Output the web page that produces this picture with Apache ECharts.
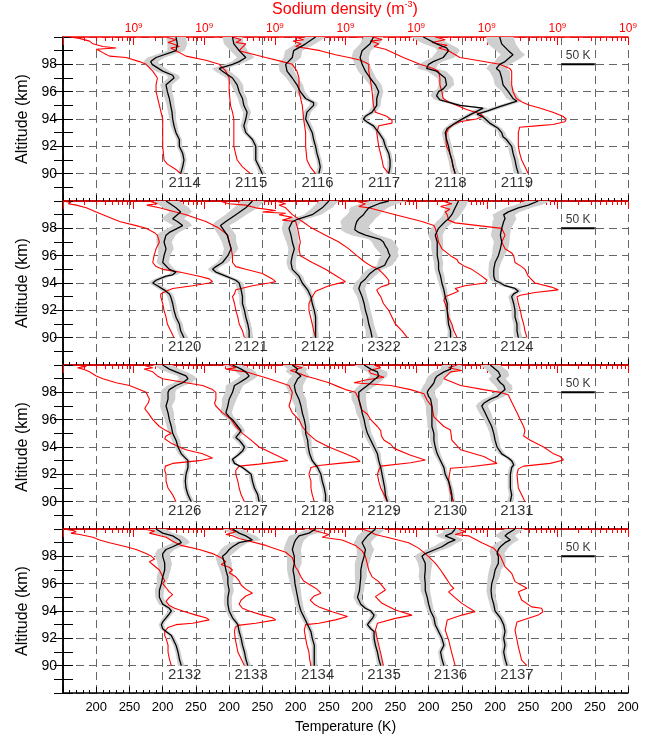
<!DOCTYPE html>
<html><head><meta charset="utf-8">
<script src="https://cdn.jsdelivr.net/npm/echarts@6/dist/echarts.min.js"></script>
<style>html,body{margin:0;padding:0;background:#fff}#c{width:653px;height:736px}</style>
</head><body><div id="c"></div>
<script>
// ---------- panels (profile ids, left to right) ----------
const panel1 = ['2114','2115','2116','2117','2118','2119'];
const panel2 = ['2120','2121','2122','2322','2123','2124'];
const panel3 = ['2126','2127','2128','2129','2130','2131'];
const panel4 = ['2132','2133','2134','2135','2136','2137'];

// ---------- axis labels ----------
const bottomTickLabels = ['', '200','250','200','250','200','250','200','250','200','250','200','250','200','250','200','250','200'];
const topTickLabel = ['10', '9'];
const altitudeLabels = [90, 92, 94, 96, 98];

// ---------- temperature uncertainty (K, half width) by km 90..100 ----------
const bandAltKm = [90,91,92,93,94,95,96,97,98,99,100];
const bandHalfWidthK = [5,4,4,4,5,6,7,9,11,13,15];
const bandScale = {'2118':1.3,'2119':1.4,'2120':1.3,'2121':1.2,'2322':1.9,'2124':1.3};

// ---------- temperature profiles [altitude km, T K] ----------
const temp2114 = [[100,220],[99.5,222],[99,220],[98.5,190],[98.2,182],[98,184],[97.5,200],[97.2,215],[97,217],[96.5,205],[96,207],[95.5,210],[95,212],[94.5,214],[94,215],[93.5,217],[93,220],[92.5,225],[92,225],[91.5,230],[91,232],[90.5,230],[90,227]];
const temp2115 = [[100,205],[99.5,207],[99,215],[98.5,225],[98.2,215],[98,205],[97.7,185],[97.5,190],[97,205],[96.5,212],[96,215],[95.5,220],[95,222],[94.5,227],[94,225],[93.5,222],[93,225],[92.5,235],[92,240],[91.5,240],[91,240],[90.5,245],[90,250]];
const temp2116 = [[100,230],[99.5,215],[99,197],[98.5,195],[98,185],[97.5,187],[97,195],[96.5,202],[96,207],[95.5,215],[95.2,227],[95,227],[94.5,217],[94,215],[93.5,220],[93,225],[92.5,227],[92,230],[91.5,232],[91,235],[90.5,237],[90,235]];
const temp2117 = [[100,217],[99.5,212],[99,200],[98.5,197],[98,200],[97.5,205],[97,212],[96.5,220],[96,225],[95.5,222],[95,222],[94.5,215],[94.2,205],[94,202],[93.8,207],[93.5,217],[93,225],[92.5,232],[92,235],[91.5,240],[91,242],[90.5,242],[90,240]];
const temp2118 = [[100,192],[99.5,212],[99.2,227],[99,230],[98.5,222],[98.2,207],[98,200],[97.7,197],[97.5,212],[97,225],[96.5,227],[96.2,222],[96,215],[95.7,212],[95.4,217],[95.0,247],[94.8,282],[94.6,274],[94.3,262],[93.9,247],[93.6,237],[93.3,228],[93,225],[92.5,227],[92,230],[91.5,232],[91,235],[90.5,237],[90,240]];
const temp2119 = [[100,207],[99.5,210],[99,220],[98.7,227],[98.5,222],[98.2,215],[98,207],[97.7,202],[97.5,207],[97,210],[96.5,212],[96,220],[95.5,227],[95.3,233],[95.1,220],[94.9,207],[94.6,189],[94.35,173],[94.15,182],[93.7,192],[93.3,205],[93,210],[92.7,212],[92.5,217],[92,225],[91.5,227],[91,230],[90.5,232],[90,235]];

const temp2120 = [[100,205],[99.5,220],[99.2,227],[99,222],[98.7,215],[98.5,222],[98.2,230],[98,222],[97.7,210],[97.5,205],[97,202],[96.5,205],[96,202],[95.5,200],[95,210],[94.8,220],[94.6,215],[94.5,205],[94.2,190],[94,185],[93.8,192],[93.5,202],[93.2,210],[93,212],[92.5,215],[92,217],[91.5,220],[91,225],[90.5,227],[90,232]];
const temp2121 = [[100,235],[99.5,225],[99,210],[98.5,195],[98.2,187],[98,190],[97.5,197],[97,200],[96.5,203],[96,198],[95.5,190],[95.2,180],[95,175],[94.8,180],[94.5,195],[94.2,210],[94,215],[93.5,218],[93,220],[92.5,220],[92,223],[91.5,225],[91,228],[90.5,230],[90,230]];
const temp2122 = [[100,250],[99.5,240],[99,225],[98.7,205],[98.5,195],[98,190],[97.5,193],[97,195],[96.5,198],[96,195],[95.5,193],[95,195],[94.5,205],[94,210],[93.5,218],[93,223],[92.5,225],[92,228],[91.5,230],[91,230],[90.5,230],[90,230]];
const temp2322 = [[100,240],[99.8,225],[99.5,210],[99.2,205],[99,202],[98.7,195],[98.5,192],[98.2,190],[97.9,189],[97.7,195],[97.5,205],[97.2,227],[97,232],[96.7,235],[96.5,238],[96.2,240],[96,242],[95.7,238],[95.3,234],[95,220],[94.7,212],[94.3,205],[94,198],[93.6,195],[93,200],[92.5,203],[92,205],[91.5,208],[91,210],[90.5,213],[90,215]];
const temp2123 = [[100,245],[99.5,240],[99,235],[98.7,230],[98.5,225],[98,215],[97.5,210],[97,213],[96.5,213],[96,213],[95.5,215],[95,215],[94.5,218],[94,220],[93.5,223],[93,225],[92.5,228],[92,228],[91.5,229],[91,230],[90.5,233],[90,233]];
const temp2124 = [[100,265],[99.7,250],[99.5,235],[99.2,220],[99,213],[98.7,215],[98.5,213],[98,210],[97.5,208],[97,210],[96.5,208],[96,205],[95.5,200],[95,198],[94.5,198],[94.2,200],[94,208],[93.8,215],[93.6,230],[93.4,235],[93.2,228],[93,225],[92.5,228],[92,230],[91.5,230],[91,233],[90.5,233],[90,235]];

const temp2126 = [[100,200],[99.7,210],[99.5,220],[99.2,235],[99,238],[98.7,230],[98.5,220],[98.2,210],[98,208],[97.5,208],[97,205],[96.5,208],[96,210],[95.5,213],[95,215],[94.5,220],[94,223],[93.5,228],[93,238],[92.5,238],[92,235],[91.5,234],[91,235],[90.5,238],[90,243]];
const temp2127 = [[100,205],[99.7,218],[99.5,225],[99.2,230],[99,225],[98.7,215],[98.5,208],[98,205],[97.5,200],[97,198],[96.5,195],[96.2,200],[96,205],[95.5,213],[95.2,218],[95,215],[94.7,210],[94.5,215],[94.2,220],[94,223],[93.7,220],[93.4,213],[93.1,205],[92.8,208],[92.5,220],[92.2,228],[92,233],[91.5,235],[91,238],[90.5,243],[90,245]];
const temp2128 = [[100,195],[99.7,203],[99.5,200],[99.2,208],[99,203],[98.5,198],[98,200],[97.5,205],[97,208],[96.5,210],[96,213],[95.5,215],[95,215],[94.5,218],[94,219],[93.5,221],[93,225],[92.5,233],[92,238],[91.5,240],[91,243],[90.5,245],[90,245]];
const temp2129 = [[100,203],[99.7,213],[99.5,223],[99.2,225],[99,220],[98.7,213],[98.5,208],[98.2,200],[98,195],[97.5,195],[97,198],[96.5,200],[96,203],[95.5,205],[95,208],[94.5,213],[94,218],[93.5,223],[93,225],[92.5,228],[92,230],[91.5,232],[91,234],[90.5,235],[90,238]];
const temp2130 = [[100,235],[99.7,233],[99.5,223],[99.2,213],[99,210],[98.7,208],[98.5,205],[98.2,200],[98,198],[97.7,200],[97.5,203],[97,205],[96.5,205],[96,205],[95.5,205],[95,208],[94.5,208],[94,210],[93.5,213],[93,218],[92.5,223],[92,225],[91.5,230],[91,233],[90.5,235],[90,235]];
const temp2131 = [[100,193],[99.7,200],[99.5,205],[99.2,208],[99,203],[98.7,208],[98.5,213],[98.2,215],[98,210],[97.7,203],[97.5,193],[97.2,183],[97,180],[96.5,185],[96,190],[95.5,195],[95,198],[94.5,200],[94,203],[93.5,210],[93.2,220],[93,225],[92.7,228],[92.5,225],[92,223],[91.5,223],[91,223],[90.5,225],[90,223]];

const temp2132 = [[100,190],[99.7,200],[99.5,215],[99.2,225],[99,228],[98.7,215],[98.5,205],[98.2,200],[98,200],[97.5,203],[97,203],[96.5,200],[96,198],[95.5,195],[95,195],[94.5,200],[94.2,210],[94,213],[93.8,210],[93.5,205],[93.2,200],[93,198],[92.7,200],[92.5,205],[92.2,213],[92,215],[91.5,220],[91,223],[90.5,225],[90,228]];
const temp2133 = [[100,205],[99.7,215],[99.5,225],[99.2,235],[99,215],[98.7,205],[98.5,200],[98.2,195],[98,190],[97.5,193],[97,195],[96.5,198],[96,198],[95.5,200],[95,198],[94.5,198],[94,200],[93.5,205],[93.2,210],[93,213],[92.5,215],[92,218],[91.5,220],[91,223],[90.5,225],[90,228]];
const temp2134 = [[100,230],[99.7,220],[99.5,205],[99.2,200],[99,198],[98.5,195],[98,198],[97.5,198],[97,196],[96.5,198],[96,199],[95.5,201],[95,203],[94.5,205],[94,208],[93.5,213],[93,218],[92.5,223],[92,225],[91.5,228],[91,228],[90.5,228],[90,228]];
const temp2135 = [[100,220],[99.7,213],[99.5,208],[99.2,203],[99,200],[98.5,205],[98,203],[97.5,200],[97,198],[96.5,198],[96,197],[95.5,196],[95,193],[94.5,198],[94.2,205],[94,213],[93.7,218],[93.5,216],[93.2,211],[93,208],[92.7,213],[92.5,218],[92,218],[91.5,220],[91,223],[90.5,225],[90,228]];
const temp2136 = [[100,240],[99.7,235],[99.5,225],[99.2,240],[99,230],[98.7,220],[98.5,210],[98.2,195],[98,190],[97.5,195],[97,195],[96.5,194],[96,195],[95.5,195],[95,198],[94.5,200],[94,203],[93.5,208],[93,210],[92.5,215],[92,220],[91.5,223],[91,218],[90.5,220],[90,223]];
const temp2137 = [[100,230],[99.7,220],[99.5,215],[99.2,223],[99,215],[98.7,208],[98.5,205],[98.2,203],[98,205],[97.5,205],[97,200],[96.5,198],[96,195],[95.5,194],[95,195],[94.5,198],[94,200],[93.5,208],[93,213],[92.5,215],[92,213],[91.5,215],[91,213],[90.5,215],[90,218]];

// ---------- sodium density profiles [altitude km, density drawn on the temperature scale] ----------
const sodium2114 = [[100,60],[99.9,75],[99.7,90],[99.5,95],[99.3,110],[99.2,130],[99.1,100],[99,105],[98.8,112],[98.6,120],[98.5,145],[98.2,165],[98,175],[97.5,185],[97,192],[96.5,190],[96,190],[95,195],[94,200],[93,200],[92,200],[91,202],[90.7,207],[90.3,220],[90,227]];
const sodium2115 = [[100,105],[99.8,120],[99.6,108],[99.5,115],[99.3,125],[99.2,112],[99,120],[98.6,135],[98.3,165],[98,185],[97.5,195],[97,200],[96,200],[95,202],[94.5,205],[94,207],[93,207],[92,207],[91,212],[90.5,220],[90,232]];
const sodium2116 = [[100,105],[99.8,118],[99.6,110],[99.5,125],[99,115],[98.5,155],[98.2,180],[98,195],[97.5,202],[97,205],[96,205],[95,210],[94,212],[93,215],[92,215],[91,217],[90.5,222],[90,230]];
const sodium2117 = [[100,100],[99.8,112],[99.7,96],[99.5,108],[99.3,100],[99,137],[98.7,160],[98.5,180],[98.3,198],[98,210],[97.5,210],[97,212],[96,215],[95,217],[94.5,220],[94.2,237],[93.9,245],[93.7,245],[93.5,225],[93,222],[92,225],[91,230],[90.5,232],[90,240]];
const sodium2118 = [[100,117],[99.8,130],[99.7,112],[99.5,125],[99.3,118],[99.1,135],[99,140],[98.5,162],[98,187],[97.7,207],[97.5,215],[97,217],[96.5,217],[96,220],[95.5,222],[95.2,232],[95,242],[94.7,257],[94.4,277],[94.2,282],[94,272],[93.8,247],[93.6,237],[93.3,230],[93,227],[92.5,226],[92,227],[91.5,232],[91,235],[90.5,237],[90,240]];
const sodium2119 = [[100,110],[99.8,125],[99.6,105],[99.4,128],[99.2,115],[99,130],[98.5,147],[98.3,172],[98,207],[97.7,222],[97.5,225],[97,225],[96.5,225],[96,227],[95.5,232],[95.2,242],[95,252],[94.8,267],[94.5,287],[94.2,302],[94,307],[93.8,305],[93.6,287],[93.5,262],[93.4,237],[93,235],[92.5,235],[92,235],[91.5,237],[91,240],[90.5,245],[90,250]];

const sodium2120 = [[100,50],[99.9,62],[99.8,58],[99.7,70],[99.5,85],[99.2,100],[99,110],[98.5,135],[98.2,160],[98,175],[97.7,187],[97.5,192],[97,195],[96.5,190],[96,187],[95.5,185],[95.2,190],[95,200],[94.8,225],[94.5,255],[94.3,270],[94.1,275],[94,270],[93.8,245],[93.6,215],[93.4,205],[93.2,197],[93,197],[92.5,200],[92,202],[91.5,205],[91,207],[90.5,212],[90,217]];
const sodium2121 = [[100,80],[99.8,92],[99.7,76],[99.5,95],[99,135],[98.5,165],[98,185],[97.5,198],[97,200],[96.5,203],[96,205],[95.5,205],[95.2,210],[95,225],[94.7,250],[94.3,265],[94.1,270],[94,260],[93.8,235],[93.6,218],[93.5,210],[93.2,208],[93,205],[92.5,208],[92,210],[91.5,213],[91,215],[90.5,220],[90,223]];
const sodium2122 = [[100,85],[99.8,100],[99.7,125],[99.5,140],[99.3,170],[99.2,150],[99.1,185],[99,175],[98.8,195],[98.6,180],[98.5,200],[98,203],[97.5,205],[97,207],[96.5,205],[96,207],[95.5,225],[95,245],[94.5,262],[94.1,275],[93.8,250],[93.6,240],[93.4,230],[93,225],[92.5,220],[92,220],[91,225],[90.5,227],[90,230]];
const sodium2322 = [[100,70],[99.8,85],[99.7,75],[99.5,85],[99,95],[98.5,110],[98,125],[97.5,145],[97,165],[96.5,180],[96,192],[95.5,205],[95.2,215],[95,225],[94.5,235],[94.2,240],[93.9,240],[93.7,228],[93.5,222],[93.2,225],[93,228],[92.5,232],[92,240],[91.5,245],[91,250],[90.5,260],[90,268]];
const sodium2123 = [[100,90],[99.8,105],[99.6,95],[99.5,110],[99,150],[98.5,190],[98.2,208],[98,210],[97.5,213],[97,215],[96.5,220],[96,233],[95.7,243],[95.5,245],[95.2,255],[95,265],[94.5,280],[94.2,288],[94,285],[93.8,255],[93.6,240],[93.4,245],[93.2,235],[93,225],[92.7,223],[92.5,225],[92,228],[91.5,230],[91,235],[90.5,238],[90,243]];
const sodium2124 = [[100,120],[99.8,135],[99.6,118],[99.4,132],[99.2,125],[99,128],[98.6,130],[98.4,140],[98.2,175],[98,210],[97.5,215],[97,210],[96.5,215],[96.2,225],[96,228],[95.5,230],[95.2,240],[95,245],[94.5,250],[94,260],[93.7,285],[93.5,295],[93.3,260],[93.1,238],[93,233],[92.5,235],[92,238],[91.5,240],[91,243],[90.5,245],[90,248]];

const sodium2126 = [[100,70],[99.9,85],[99.8,72],[99.7,80],[99.5,90],[99.2,100],[99,110],[98.7,130],[98.5,150],[98.2,165],[98,175],[97.5,180],[97.2,178],[97,175],[96.8,173],[96.5,178],[96,185],[95.5,195],[95.2,205],[95,213],[94.8,205],[94.6,203],[94.3,212],[94,225],[93.8,235],[93.5,260],[93.2,275],[93,255],[92.8,215],[92.6,204],[92.3,203],[92,205],[91.5,205],[91,208],[90.5,215],[90,220]];
const sodium2127 = [[100,70],[99.8,85],[99.7,72],[99.5,85],[99.2,92],[99,100],[98.7,135],[98.5,160],[98.2,175],[98,180],[97.5,180],[97.2,178],[97,180],[96.5,190],[96.2,198],[96,203],[95.5,210],[95,220],[94.5,233],[94,245],[93.3,275],[93,288],[92.75,245],[92.6,215],[92.3,210],[92,210],[91.5,213],[91,215],[90.5,218],[90,223]];
const sodium2128 = [[100,100],[99.8,110],[99.7,95],[99.5,125],[99,160],[98.5,190],[98,195],[97.5,193],[97,190],[96.5,195],[96,205],[95.5,210],[95,218],[94.5,230],[94,250],[93.5,275],[93.2,290],[92.95,297],[92.8,265],[92.65,235],[92.5,223],[92,220],[91.5,223],[91,223],[90.5,225],[90,228]];
const sodium2129 = [[100,95],[99.8,110],[99.6,92],[99.4,105],[99.2,115],[99,130],[98.7,150],[98.4,165],[98.2,175],[98,190],[97.5,195],[97,197],[96.7,200],[96.4,208],[96,213],[95.5,223],[95.2,228],[94.8,229],[94.5,233],[94.2,243],[93.9,248],[93.4,273],[93.05,295],[92.85,273],[92.6,228],[92.3,225],[92,223],[91.5,225],[91,228],[90.5,233],[90,238]];
const sodium2130 = [[100,118],[99.8,128],[99.6,110],[99.4,113],[99.1,133],[98.9,105],[98.7,88],[98.5,143],[98.2,173],[97.9,193],[97.4,198],[96.95,205],[96.2,208],[95.5,223],[95.24,233],[94.5,235],[93.8,248],[93.3,283],[92.8,303],[92.56,263],[92.44,233],[91.6,230],[90.6,233],[90,238]];
const sodium2131 = [[100,143],[99.8,130],[99.6,150],[99.5,133],[99,123],[98.5,148],[98.2,183],[98,208],[97.8,220],[97.5,223],[97,228],[96.5,233],[96,238],[95.5,243],[95.2,245],[94.8,243],[94.5,253],[94,273],[93.5,288],[93.3,298],[93.05,303],[92.8,283],[92.6,243],[92.4,235],[92,233],[91.5,234],[91,235],[90.5,240],[90,245]];

const sodium2132 = [[100,50],[99.9,65],[99.8,70],[99.7,62],[99.6,75],[99.4,95],[99.2,105],[99,120],[98.7,145],[98.5,160],[98.2,175],[98,183],[97.8,188],[97.6,180],[97.4,185],[97.2,190],[97,195],[96.5,200],[96.2,203],[96,200],[95.7,205],[95.4,210],[95.2,215],[95,210],[94.7,205],[94.4,210],[94.2,218],[94,230],[93.7,250],[93.5,265],[93.35,270],[93.1,245],[93,220],[92.8,208],[92.5,203],[92.2,203],[92,205],[91.5,208],[91,208],[90.5,210],[90,213]];
const sodium2133 = [[100,70],[99.85,88],[99.7,80],[99.4,105],[99.1,115],[98.8,128],[98.5,155],[98.2,175],[97.9,188],[97.6,195],[97.4,188],[97.2,200],[97,205],[96.8,200],[96.5,210],[96.2,215],[95.9,218],[95.6,225],[95.3,235],[95.1,225],[94.8,218],[94.5,215],[94.2,220],[94,230],[93.7,250],[93.5,265],[93.35,270],[93.1,240],[92.95,213],[92.8,209],[92.5,208],[92,209],[91.5,211],[91,213],[90.5,218],[90,223]];
const sodium2134 = [[100,100],[99.8,110],[99.6,95],[99.5,105],[99.3,115],[98.8,155],[98.3,185],[97.9,195],[97.5,198],[97.2,200],[97,203],[96.5,208],[96.2,212],[95.9,222],[95.6,232],[95.3,238],[95.1,228],[94.8,222],[94.5,228],[94.3,235],[93.95,255],[93.6,278],[93.35,260],[93.1,235],[93,215],[92.6,213],[92,215],[91.5,217],[91,220],[90.5,221],[90,223]];
const sodium2135 = [[100,120],[99.8,135],[99.6,150],[99.4,140],[99.2,170],[98.8,190],[98.4,200],[98,205],[97,210],[96.5,215],[96.15,225],[95.54,235],[95.05,220],[94.56,230],[94.07,250],[93.7,275],[93.46,250],[93.1,223],[92.6,220],[91.9,223],[90.9,228],[90,232]];
const sodium2136 = [[100,100],[99.8,112],[99.6,120],[99.3,145],[99,170],[98.6,185],[98.2,195],[97.98,200],[97.5,210],[97,218],[96.5,225],[95.9,233],[95.66,238],[95.4,230],[95.05,238],[94.56,250],[93.95,270],[93.7,250],[93.34,228],[92.6,225],[91.9,230],[90.9,235],[90,240]];
const sodium2137 = [[100,145],[99.8,155],[99.6,140],[99.5,160],[99,180],[98.6,198],[98.2,205],[98,208],[97.24,215],[96.76,225],[96.15,230],[95.66,248],[95.41,235],[94.8,240],[94.3,255],[94.2,270],[93.95,272],[93.7,265],[93.2,233],[92.6,230],[91.4,235],[90.4,240],[90,248]];

// ---------- lookups built from the named arrays ----------
const panels = [panel1, panel2, panel3, panel4];
const tempById = {2114:temp2114,2115:temp2115,2116:temp2116,2117:temp2117,2118:temp2118,2119:temp2119,
  2120:temp2120,2121:temp2121,2122:temp2122,2322:temp2322,2123:temp2123,2124:temp2124,
  2126:temp2126,2127:temp2127,2128:temp2128,2129:temp2129,2130:temp2130,2131:temp2131,
  2132:temp2132,2133:temp2133,2134:temp2134,2135:temp2135,2136:temp2136,2137:temp2137};
const sodiumById = {2114:sodium2114,2115:sodium2115,2116:sodium2116,2117:sodium2117,2118:sodium2118,2119:sodium2119,
  2120:sodium2120,2121:sodium2121,2122:sodium2122,2322:sodium2322,2123:sodium2123,2124:sodium2124,
  2126:sodium2126,2127:sodium2127,2128:sodium2128,2129:sodium2129,2130:sodium2130,2131:sodium2131,
  2132:sodium2132,2133:sodium2133,2134:sodium2134,2135:sodium2135,2136:sodium2136,2137:sodium2137};

// ---------- layout ----------
const FONT = 'Liberation Sans, Arial, Helvetica, sans-serif';
const PLOT_LEFT = 63, PLOT_W = 565, PANEL_TOP = 37, PANEL_H = 164;
const PROFILE_STEP = 100;      // offset between successive profiles (K on the axis)
const BASE_OFFSET = -50;       // first profile's 200 K sits at axis value 150
const offsetOf = c => BASE_OFFSET + PROFILE_STEP * c;

// log-style minor ticks on the red top axis
const topMinorTicks = [];
for (let d = 0; d < 8; d++) for (let m = 2; m <= 9; m++) topMinorTicks.push(d + Math.log10(m));

const grids = [], xAxes = [], yAxes = [], series = [];

panels.forEach((ids, p) => {
  grids.push({left: PLOT_LEFT, width: PLOT_W, top: PANEL_TOP + PANEL_H * p, height: PANEL_H, outerBoundsMode: 'none', containLabel: false});
  const xb = xAxes.length;
  xAxes.push({
    gridIndex: p, type: 'value', min: 0, max: 850, interval: 50, position: 'bottom',
    axisLine: {lineStyle: {color: '#000', width: 1.5}},
    axisTick: {inside: true, length: 6, lineStyle: {color: '#000', width: 1}},
    minorTick: {show: true, splitNumber: 5, length: 3, lineStyle: {color: '#000', width: 1}},
    splitLine: {show: true, lineStyle: {color: '#666', width: 1, type: [8, 5]}},
    axisLabel: {show: p === 3, showMinLabel: true, showMaxLabel: true, hideOverlap: false,
      formatter: v => bottomTickLabels[Math.round(v / 50)] || '', fontSize: 13, color: '#000', margin: 8, fontFamily: FONT},
    name: p === 3 ? 'Temperature (K)' : '', nameLocation: 'middle', nameGap: 27,
    nameTextStyle: {fontSize: 14, color: '#000', fontFamily: FONT}
  });
  xAxes.push({
    gridIndex: p, type: 'value', min: 0, max: 8, interval: 1, position: 'top',
    axisLine: {lineStyle: {color: '#ff0000', width: 1.5}},
    axisTick: {inside: true, length: 8, lineStyle: {color: '#ff0000', width: 1}},
    splitLine: {show: false},
    axisLabel: {show: p === 0, showMaxLabel: true, hideOverlap: false, margin: 1,
      formatter: v => v >= 1 ? '{b|' + topTickLabel[0] + '}{s|' + topTickLabel[1] + '}' : '',
      rich: {b: {fontSize: 12, color: '#ff0000', fontFamily: FONT, lineHeight: 14},
             s: {fontSize: 8, color: '#ff0000', fontFamily: FONT, verticalAlign: 'top', lineHeight: 14}}}
  });
  xAxes.push({
    gridIndex: p, type: 'value', min: 0, max: 8, position: 'top',
    axisLine: {show: false},
    axisTick: {show: true, inside: true, length: 4, customValues: topMinorTicks, lineStyle: {color: '#ff0000', width: 1}},
    axisLabel: {show: false}, splitLine: {show: false}
  });
  const yl = yAxes.length;
  yAxes.push({
    gridIndex: p, type: 'value', min: 88, max: 100, interval: 2, position: 'left',
    axisLine: {lineStyle: {color: '#000', width: 1.5}},
    axisTick: {inside: true, length: 10, lineStyle: {color: '#000', width: 1}},
    minorTick: {show: true, splitNumber: 2, length: 10, lineStyle: {color: '#000', width: 1}},
    splitLine: {show: true, lineStyle: {color: '#666', width: 1, type: [8, 5]}},
    axisLabel: {formatter: v => altitudeLabels.includes(v) ? String(v) : '', fontSize: 14, color: '#000', margin: 6, fontFamily: FONT},
    name: 'Altitude (km)', nameLocation: 'middle', nameGap: 26, nameRotate: 90,
    nameTextStyle: {fontSize: 16, color: '#000', fontFamily: FONT}
  });
  yAxes.push({
    gridIndex: p, type: 'value', min: 88, max: 100, interval: 2, position: 'right',
    axisLine: {lineStyle: {color: '#000', width: 1.5}},
    axisTick: {inside: true, length: 9, lineStyle: {color: '#000', width: 1}},
    minorTick: {show: true, splitNumber: 2, length: 9, lineStyle: {color: '#000', width: 1}},
    axisLabel: {show: false}, splitLine: {show: false}
  });

  // uncertainty bands
  const polys = ids.map((id, c) => {
    const t = tempById[id], off = offsetOf(c), sc = bandScale[id] || 1;
    const err = a => bandHalfWidthK[bandAltKm.indexOf(Math.round(a))] * sc;
    const left = t.map(([a, T]) => [T - err(a) + off, a]);
    const right = t.slice().reverse().map(([a, T]) => [T + err(a) + off, a]);
    return left.concat(right);
  });
  series.push({
    type: 'custom', xAxisIndex: xb, yAxisIndex: yl, z: 1, silent: true, clip: true,
    data: ids.map(() => [425, 94]),
    renderItem: (params, api) => ({
      type: 'polygon',
      shape: {points: polys[params.dataIndex].map(pt => api.coord(pt))},
      style: {fill: '#cfcfcf'}
    })
  });

  ids.forEach((id, c) => {
    const off = offsetOf(c);
    series.push({
      type: 'line', xAxisIndex: xb, yAxisIndex: yl, z: 3, showSymbol: false, symbol: 'none', silent: true, clip: true,
      data: sodiumById[id].map(([a, n]) => [n + off, a]),
      lineStyle: {color: '#ff0000', width: 1.1}
    });
    series.push({
      type: 'line', xAxisIndex: xb, yAxisIndex: yl, z: 4, showSymbol: false, symbol: 'none', silent: true, clip: true,
      data: tempById[id].map(([a, T]) => [T + off, a]),
      lineStyle: {color: '#000', width: 1.3}
    });
  });

  // profile numbers
  series.push({
    type: 'scatter', xAxisIndex: xb, yAxisIndex: yl, z: 5, symbolSize: 0, silent: true,
    data: ids.map((id, c) => ({value: [233 + offsetOf(c), 89.3], name: id})),
    label: {show: true, position: 'inside', formatter: q => q.name, fontSize: 15, color: '#000', fontFamily: FONT}
  });
  // 50 K scale bar
  series.push({
    type: 'line', xAxisIndex: xb, yAxisIndex: yl, z: 5, showSymbol: false, symbol: 'none', silent: true,
    data: [[750, 98], [800, 98]], lineStyle: {color: '#000', width: 2}
  });
  series.push({
    type: 'scatter', xAxisIndex: xb, yAxisIndex: yl, z: 5, symbolSize: 0, silent: true,
    data: [{value: [775, 98.65], name: '50 K'}],
    label: {show: true, position: 'inside', formatter: q => q.name, fontSize: 12, color: '#000', fontFamily: FONT}
  });
});

const chart = echarts.init(document.getElementById('c'), null, {renderer: 'canvas'});
chart.setOption({
  animation: false,
  backgroundColor: '#fff',
  title: {
    text: '{a|Sodium density (m}{s|-3}{a|)}',
    left: 345, top: 0, textAlign: 'center', padding: 0,
    textStyle: {fontWeight: 'normal', rich: {a: {fontSize: 16, fontWeight: 'normal', color: '#ff0000', fontFamily: FONT, lineHeight: 19},
                       s: {fontSize: 9, fontWeight: 'normal', color: '#ff0000', fontFamily: FONT, verticalAlign: 'top', lineHeight: 19}}}
  },
  grid: grids, xAxis: xAxes, yAxis: yAxes, series: series
});
</script>
</body></html>
